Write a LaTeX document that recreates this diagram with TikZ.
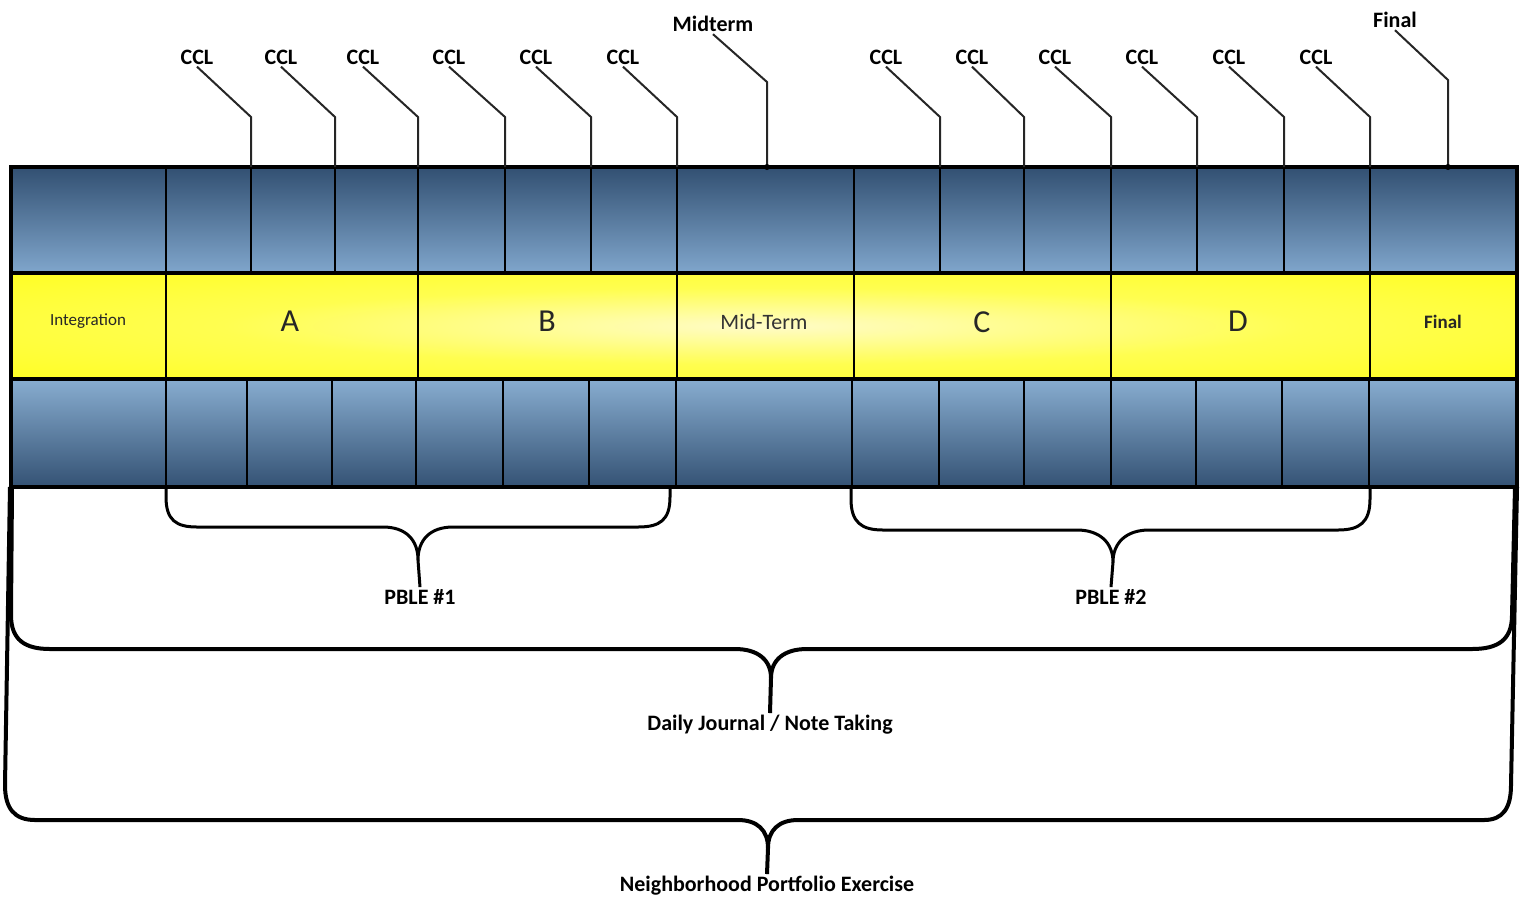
\documentclass[tikz,border=0pt]{standalone}
\usepackage{fontspec}
\setmainfont{Carlito}
\definecolor{tdark}{RGB}{50,80,114}
\definecolor{tlight}{RGB}{128,166,204}
\definecolor{bdark}{RGB}{52,82,116}
\definecolor{blight}{RGB}{136,173,208}
\definecolor{ylight}{RGB}{255,252,200}
\definecolor{yfull}{RGB}{255,255,0}
\pgfdeclareradialshading{ybar}{\pgfpoint{0bp}{0bp}}{color(0bp)=(ylight); color(18bp)=(yfull!60!ylight); color(50bp)=(yfull); color(75bp)=(yfull)}
\begin{document}
\begin{tikzpicture}[x=0.5pt,y=-0.5pt,
  bold lbl/.style={font=\bfseries\fontsize{11}{13}\selectfont, inner sep=1pt, text=black},
  big lbl/.style={font=\fontsize{16}{18}\selectfont, inner sep=0pt, text=black!85},
  callout/.style={draw=black!85, line width=1pt},
  rowline/.style={line width=1.6pt},
  divider/.style={line width=1pt},
  bracea/.style={line width=1.5pt, line join=round},
  braceb/.style={line width=2pt, line join=round}]
\useasboundingbox (0,0) rectangle (1525,901);

% rows
\shade[top color=tdark, bottom color=tlight] (11,167) rectangle (1517,273);
\shade[shading=ybar] (11,273) rectangle (1517,379);
\shade[top color=blight, bottom color=bdark] (11,379) rectangle (1517,487);

% dividers top row
\foreach \x in {166,251,335,418,505,591,677,854,940,1024,1111,1197,1284,1370}
  \draw[divider] (\x,167) -- (\x,273);
% dividers yellow row
\foreach \x in {166,418,677,854,1111,1370}
  \draw[divider] (\x,273) -- (\x,379);
% dividers bottom row
\foreach \x in {166,247,332,416,503,589,676,852,939,1024,1111,1196,1282,1369}
  \draw[divider] (\x,379) -- (\x,487);

\draw[rowline] (11,273) -- (1517,273);
\draw[rowline] (11,379) -- (1517,379);
\draw[line width=2pt] (11,167) rectangle (1517,487);

% yellow row texts
\node[font=\fontsize{8.5}{10}\selectfont, text=black!85] (integ) at (88,321) {Integration};
\node[big lbl] (A) at (290,321) {A};
\node[big lbl] (B) at (547,321) {B};
\node[font=\fontsize{11}{13}\selectfont, text=black!80] (mid) at (764,322) {Mid-Term};
\node[big lbl] (C) at (982,322) {C};
\node[big lbl] (D) at (1238,321) {D};
\node[font=\bfseries\fontsize{9.5}{11}\selectfont, text=black!85] (fin) at (1443,322) {Final};

% CCL callouts
\foreach \i/\lx/\dx in {1/197/251,2/281/335,3/363/418,4/449/505,5/536/591,6/623/677,
                        7/886/940,8/972/1024,9/1055/1111,10/1142/1197,11/1229/1284,12/1316/1370}{
  \node[bold lbl] (ccl\i) at (\lx,57) {CCL};
  \coordinate (k\i) at (\dx,117);
  \coordinate (t\i) at (\dx,167);
  \draw[callout] (ccl\i.south) -- (k\i) -- (t\i);
}

% Midterm and Final callouts
\node[bold lbl] (midlbl) at (713,24) {Midterm};
\coordinate (kmid) at (767,82);
\coordinate (tmid) at (767,167);
\draw[callout] (midlbl.south) -- (kmid) -- (tmid);
\fill (tmid) circle (3);

\node[bold lbl] (finlbl) at (1395,20) {Final};
\coordinate (kfin) at (1448,80);
\coordinate (tfin) at (1448,167);
\draw[callout] (finlbl.south) -- (kfin) -- (tfin);
\fill (tfin) circle (3);

% PBLE #1 brace
\node[bold lbl] (p1) at (420,597) {PBLE \#1};
\coordinate (p1c) at (418,560);
\draw[bracea] (166,487) -- (166,497) .. controls (166,520) and (176,527) .. (197,527)
  -- (383,527) .. controls (406,527) and (418,540) .. (p1c)
  .. controls (418,540) and (430,527) .. (453,527)
  -- (638,527) .. controls (660,527) and (670,520) .. (670,497) -- (670,487);
\draw[bracea] (p1c) -- (p1.north);

% PBLE #2 brace
\node[bold lbl] (p2) at (1111,597) {PBLE \#2};
\coordinate (p2c) at (1113,562);
\draw[bracea] (851,487) -- (851,499) .. controls (851,522) and (861,530) .. (883,530)
  -- (1077,530) .. controls (1100,530) and (1113,543) .. (p2c)
  .. controls (1113,543) and (1126,530) .. (1149,530)
  -- (1338,530) .. controls (1360,530) and (1370,522) .. (1370,499) -- (1370,487);
\draw[bracea] (p2c) -- (p2.north);

% Daily Journal brace
\node[bold lbl] (dj) at (770,725) {Daily Journal / Note Taking};
\coordinate (djc) at (771,678);
\draw[braceb] (12,487) -- (11,615) .. controls (11,640) and (25,649) .. (50,649)
  -- (735,649) .. controls (758,649) and (771,660) .. (djc)
  .. controls (771,660) and (784,649) .. (807,649)
  -- (1472,649) .. controls (1498,649) and (1512,640) .. (1512,615) -- (1515,487);
\draw[braceb] (djc) -- (dj.north);

% Neighborhood brace
\node[bold lbl] (np) at (767,886) {Neighborhood Portfolio Exercise};
\coordinate (npc) at (768,848);
\draw[braceb] (10,487) -- (5,785) .. controls (5,808) and (14,820) .. (35,820)
  -- (738,820) .. controls (757,820) and (768,830) .. (npc)
  .. controls (768,830) and (779,820) .. (798,820)
  -- (1484,820) .. controls (1503,820) and (1511,808) .. (1511,785) -- (1517,487);
\draw[braceb] (npc) -- (np.north);
\end{tikzpicture}
\end{document}
